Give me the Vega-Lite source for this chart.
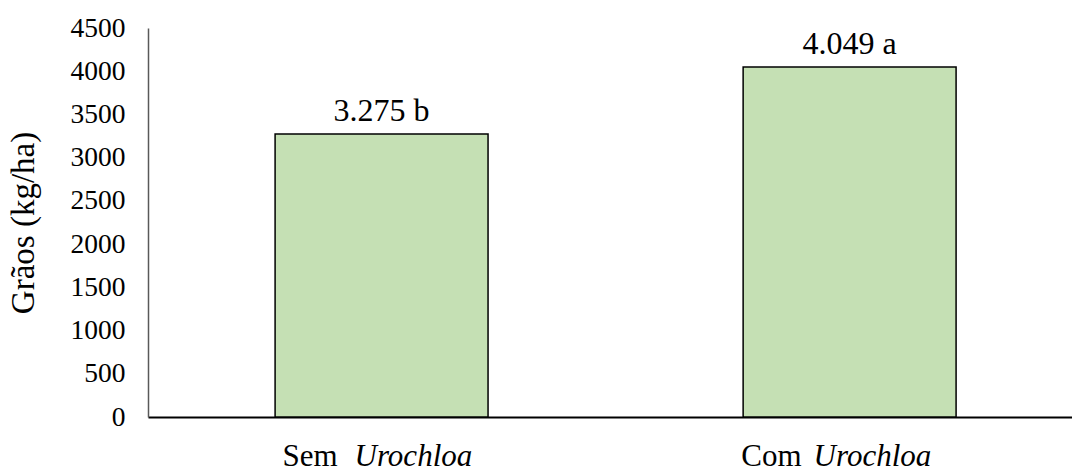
{
  "$schema": "https://vega.github.io/schema/vega-lite/v6.json",
  "width": 924,
  "height": 389,
  "autosize": {"type": "none"},
  "padding": {"left": 148, "top": 28, "right": 0, "bottom": 58},
  "background": "white",
  "config": {"view": {"stroke": null}, "font": "'Liberation Serif', 'Times New Roman', serif"},
  "data": {
    "values": [
      {"trat": "Sem Urochloa", "graos": 3275, "rotulo": "3.275 b"},
      {"trat": "Com Urochloa", "graos": 4049, "rotulo": "4.049 a"}
    ]
  },
  "layer": [
    {
      "mark": {"type": "bar", "fill": "#C5E0B4", "stroke": "#000000", "strokeWidth": 1.5},
      "encoding": {
        "x": {
          "field": "trat",
          "type": "nominal",
          "sort": null,
          "scale": {"paddingInner": 0.545, "paddingOuter": 0.2596, "align": 0.523},
          "axis": {
            "title": null,
            "orient": "bottom",
            "ticks": false,
            "tickSize": 0,
            "domainColor": "#000000",
            "domainWidth": 2,
            "labelExpr": "split(datum.label, ' ')[0]",
            "labelAlign": "right",
            "labelBaseline": "alphabetic",
            "labelPadding": 48,
            "labelOffset": {"condition": {"test": "datum.value === 'Com Urochloa'", "value": -48}, "value": -44},
            "labelFontSize": 31,
            "labelColor": "#000000",
            "labelAngle": 0,
            "labelFont": "'Liberation Serif', 'Times New Roman', serif"
          }
        },
        "y": {
          "field": "graos",
          "type": "quantitative",
          "scale": {"domain": [0, 4500], "nice": false},
          "axis": {
            "title": "Grãos (kg/ha)",
            "values": [0, 500, 1000, 1500, 2000, 2500, 3000, 3500, 4000, 4500],
            "format": "d",
            "grid": false,
            "ticks": false,
            "tickSize": 0,
            "domainColor": "#595959",
            "domainWidth": 1.5,
            "labelFontSize": 27.5,
            "labelColor": "#000000",
            "labelPadding": 23,
            "labelFlush": false,
            "labelFont": "'Liberation Serif', 'Times New Roman', serif",
            "titleFont": "'Liberation Serif', 'Times New Roman', serif",
            "titleFontSize": 33,
            "titleFontWeight": "normal",
            "titleColor": "#000000",
            "titlePadding": 30
          }
        }
      }
    },
    {
      "mark": {"type": "text", "fontSize": 32, "baseline": "alphabetic", "dy": -13, "font": "'Liberation Serif', 'Times New Roman', serif", "color": "#000000"},
      "encoding": {
        "x": {
          "field": "trat",
          "type": "nominal",
          "sort": null,
          "axis": {
            "title": null,
            "orient": "bottom",
            "domain": false,
            "ticks": false,
            "tickSize": 0,
            "labelExpr": "split(datum.label, ' ')[1]",
            "labelAlign": "left",
            "labelBaseline": "alphabetic",
            "labelPadding": 48,
            "labelOffset": {"condition": {"test": "datum.value === 'Com Urochloa'", "value": -36}, "value": -27},
            "labelFontSize": 31,
            "labelFontStyle": "italic",
            "labelColor": "#000000",
            "labelAngle": 0,
            "labelFont": "'Liberation Serif', 'Times New Roman', serif"
          }
        },
        "y": {"field": "graos", "type": "quantitative"},
        "text": {"field": "rotulo"}
      }
    }
  ],
  "resolve": {"axis": {"x": "independent"}}
}
